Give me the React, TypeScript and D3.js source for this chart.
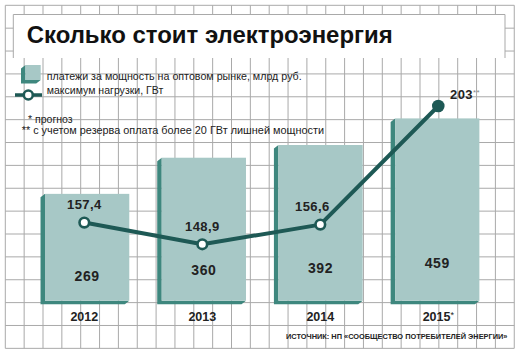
import React from "react";
import * as d3 from "d3";

const years = ["2012", "2013", "2014", "2015"];
const yearMarks = ["", "", "", "*"];
const payments = [269, 360, 392, 459];
const peakLoad = [157.4, 148.9, 156.6, 203];
const peakLabels = ["157,4", "148,9", "156,6", "203"];
const peakMarks = ["", "", "", "**"];
const labelShift = [0, 0, -8, 0];

const W = 520;
const H = 355;
const GRID = "#a9a9a9";
const LIGHT = "#a7c8c6";
const DARK = "#3e877e";
const LINE = "#1e5955";
const TXT = "#222";

export default function App() {
  const xBar = d3.scaleBand<string>().domain(years).range([28.8, 495.6]).paddingInner(0.278).paddingOuter(0.139);
  const xPt = d3.scalePoint<string>().domain(years).range([84.3, 438.3]);
  const yBar = d3.scaleLinear().domain([0, 459]).range([300.7, 118.4]);
  const yLine = d3.scaleLinear().domain([148.9, 203]).range([244.3, 106]);

  const gx = d3.range(28).map((i) => 5.3 + i * 18.85);
  const gy = d3.range(16).map((j) => 5.3 + j * 22.87);

  const line = d3
    .line<number>()
    .x((_, i) => xPt(years[i]) as number)
    .y((d) => yLine(d));

  const dx = 4.5;
  const dy = 3.5;
  const extr = (x0: number, y0: number, x1: number, y1: number) =>
    `M${x0},${y0}L${x0 - dx},${y0 + dy}L${x0 - dx},${y1 + dy}L${x1 - dx},${y1 + dy}L${x1},${y1}L${x0},${y1}Z`;

  return (
    <svg width={W} height={H} style={{ position: "absolute", left: 0, top: 0, background: "#fff" }}>
      <rect width={W} height={H} fill="#fff" />
      {/* grid */}
      <g stroke={GRID} strokeWidth={1}>
        {gx.map((x, i) => (
          <line key={"v" + i} x1={x} x2={x} y1={gy[0]} y2={gy[gy.length - 1]} />
        ))}
        {gy.map((y, j) => (
          <line key={"h" + j} x1={gx[0]} x2={gx[gx.length - 1]} y1={y} y2={y} />
        ))}
      </g>
      {/* title box */}
      <rect x={13.3} y={14.5} width={491.7} height={43.5} fill="#fff" />
      <path d="M13.3,58V14.5H505V58" fill="none" stroke={GRID} strokeWidth={1} />
      <text x={26.7} y={43.3} fontFamily="Liberation Sans, Arial, sans-serif" fontWeight={700} fontSize={23.5} fill="#111" textLength={366} lengthAdjust="spacingAndGlyphs">
        Сколько стоит электроэнергия
      </text>

      {/* legend */}
      <path d={extr(25.5, 65, 40.7, 80)} fill={DARK} />
      <rect x={25.5} y={65} width={15.2} height={15} fill={LIGHT} />
      <g fontFamily="Liberation Sans Narrow, Liberation Sans, Arial, sans-serif" fontSize={11.5} fill={TXT}>
        <text x={46.7} y={79.5} textLength={255} lengthAdjust="spacingAndGlyphs">платежи за мощность на оптовом рынке, млрд руб.</text>
        <text x={46.7} y={94} textLength={116.6} lengthAdjust="spacingAndGlyphs">максимум нагрузки, ГВт</text>
        <text x={28} y={123.3} textLength={44.7} lengthAdjust="spacingAndGlyphs">* прогноз</text>
        <text x={21.7} y={134.3} textLength={302.3} lengthAdjust="spacingAndGlyphs">** с учетом резерва оплата более 20 ГВт лишней мощности</text>
      </g>
      <line x1={15} x2={42} y1={95} y2={95} stroke={LINE} strokeWidth={3.5} />
      <circle cx={28.3} cy={95} r={4.5} fill="#fff" stroke={LINE} strokeWidth={2.6} />

      {/* bars */}
      {years.map((yr, i) => {
        const x0 = xBar(yr) as number;
        const x1 = x0 + xBar.bandwidth();
        const y0 = yBar(payments[i]);
        const y1 = yBar(0);
        return (
          <g key={"b" + yr}>
            <path d={extr(x0, y0, x1, y1)} fill={DARK} />
            <rect x={x0} y={y0} width={x1 - x0} height={y1 - y0} fill={LIGHT} />
            <text
              x={x0 + xBar.bandwidth() / 2}
              y={yBar(payments[i] * 0.18)}
              textAnchor="middle"
              fontFamily="Liberation Sans, Arial, sans-serif"
              fontWeight={700}
              fontSize={14}
              fill={TXT}
              letterSpacing={0.6}
            >
              {payments[i]}
            </text>
          </g>
        );
      })}

      {/* line */}
      <path d={line(peakLoad) || ""} fill="none" stroke={LINE} strokeWidth={4} strokeLinejoin="round" />
      {peakLoad.map((v, i) => {
        const last = i === peakLoad.length - 1;
        return (
          <circle
            key={"c" + i}
            cx={xPt(years[i]) as number}
            cy={yLine(v)}
            r={last ? 6.3 : 4.8}
            fill={last ? LINE : "#fff"}
            stroke={LINE}
            strokeWidth={last ? 0 : 2.6}
          />
        );
      })}
      {peakLoad.map((v, i) => {
        const last = i === peakLoad.length - 1;
        return (
          <text
            key={"l" + i}
            x={last ? 450 : (xPt(years[i]) as number) + labelShift[i]}
            y={last ? 99.3 : yLine(v) - 13.5}
            textAnchor={last ? "start" : "middle"}
            fontFamily="Liberation Sans, Arial, sans-serif"
            fontWeight={700}
            fontSize={13}
            fill={TXT}
            letterSpacing={0.4}
          >
            {peakLabels[i]}
            {peakMarks[i] && (
              <tspan fontSize={8} dy={-4} fill="#888" fontWeight={400}>
                {peakMarks[i]}
              </tspan>
            )}
          </text>
        );
      })}

      {/* year labels */}
      {years.map((yr, i) => (
        <text
          key={"y" + yr}
          x={xPt(yr) as number}
          y={320.7}
          textAnchor="middle"
          fontFamily="Liberation Sans, Arial, sans-serif"
          fontWeight={700}
          fontSize={12.5}
          fill={TXT}
        >
          {yr}
          {yearMarks[i] && (
            <tspan fontSize={9} dy={-3} fontWeight={400}>
              {yearMarks[i]}
            </tspan>
          )}
        </text>
      ))}

      {/* source */}
      <text
        x={0}
        y={0}
        transform="translate(286,339) scale(0.925,1)"
        fontFamily="Liberation Sans, Arial, sans-serif"
        fontWeight={700}
        fontSize={8}
        fill={TXT}
      >
        ИСТОЧНИК: НП «СООБЩЕСТВО ПОТРЕБИТЕЛЕЙ ЭНЕРГИИ»
      </text>
    </svg>
  );
}
